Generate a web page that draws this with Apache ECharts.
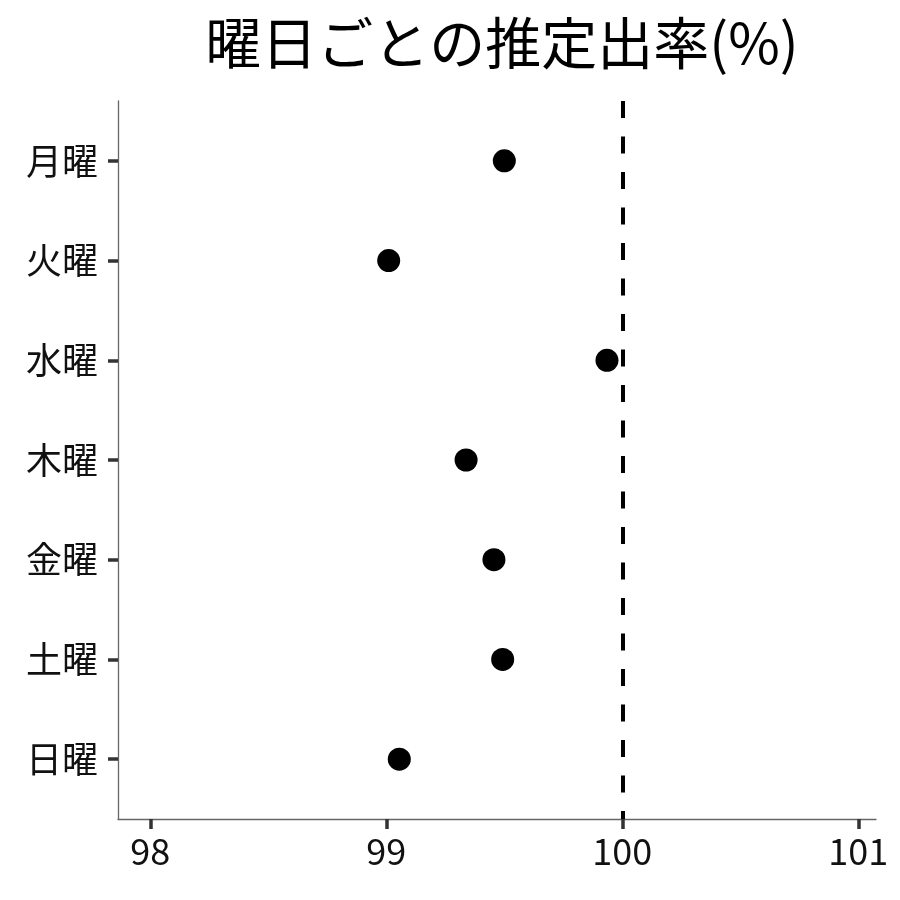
<!DOCTYPE html>
<html>
<head>
<meta charset="utf-8">
<script src="https://cdn.jsdelivr.net/npm/echarts@6/dist/echarts.min.js"></script>
<style>html,body{margin:0;padding:0;background:#fff;}#c{width:900px;height:900px;}</style>
</head>
<body>
<div id="c"></div>
<script>
const titleText = '曜日ごとの推定出率(%)';
const days = ['月曜', '火曜', '水曜', '木曜', '金曜', '土曜', '日曜'];
const rates = [99.50, 99.01, 99.935, 99.338, 99.456, 99.493, 99.055];
const xTicks = [98, 99, 100, 101];
const refValue = 100;

const font = "'Noto Sans CJK JP', 'Noto Sans', sans-serif";
const chart = echarts.init(document.getElementById('c'), null, {renderer: 'canvas'});
const dayIdx = days.map((d, i) => i);
chart.setOption({
  animation: false,
  backgroundColor: '#fff',
  title: {
    text: titleText,
    left: 497, top: 10, textAlign: 'center',
    textStyle: {fontFamily: font, fontSize: 56, fontWeight: 'normal', color: '#000'}
  },
  grid: {left: 118, right: 24, top: 101, bottom: 81},
  xAxis: {
    type: 'value', min: 97.863, max: 101.075,
    axisLine: {show: true, onZero: false, lineStyle: {color: '#666', width: 1.3}},
    axisTick: {show: true, customValues: xTicks, length: 10, lineStyle: {color: '#333', width: 3.5}},
    axisLabel: {customValues: xTicks, margin: 14, fontFamily: font, fontSize: 36, color: '#111'},
    splitLine: {show: false}
  },
  yAxis: {
    type: 'value', inverse: true, min: -0.6, max: 6.6,
    axisLine: {show: true, onZero: false, lineStyle: {color: '#666', width: 1.3}},
    axisTick: {show: true, customValues: dayIdx, length: 10, lineStyle: {color: '#333', width: 3.5}},
    axisLabel: {customValues: dayIdx, margin: 20, fontFamily: font, fontSize: 36, color: '#111',
      formatter: v => days[Math.round(v)]},
    splitLine: {show: false}
  },
  series: [{
    type: 'scatter',
    symbol: 'circle',
    symbolSize: 23,
    itemStyle: {color: '#000', opacity: 1},
    data: rates.map((r, i) => [r, i]),
    markLine: {
      silent: true, symbol: 'none',
      label: {show: false},
      lineStyle: {color: '#000', width: 4, type: [17, 18.5], opacity: 1},
      data: [{xAxis: refValue}]
    }
  }]
});
</script>
</body>
</html>
